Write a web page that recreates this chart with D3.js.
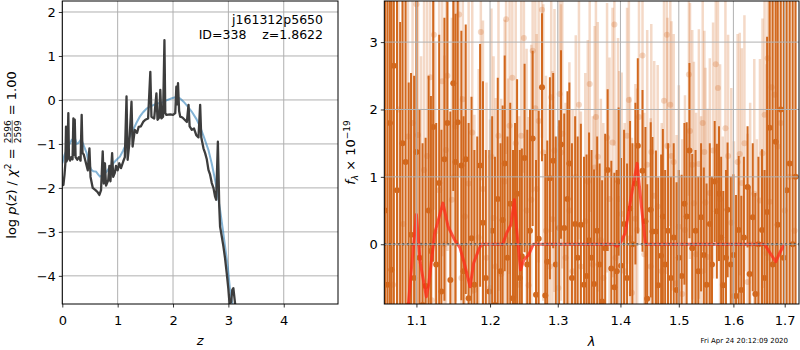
<!DOCTYPE html>
<html>
<head>
<meta charset="utf-8">
<script src="https://cdn.jsdelivr.net/npm/d3@7"></script>
<style>
body { margin: 0; background: #fff; }
text { font-family: "DejaVu Sans", sans-serif; white-space: pre; }
</style>
</head>
<body>
<div id="vis"></div>
<script>
// ---- left panel: p(z) ----
const zPz = [0.00,0.02,0.04,0.055,0.067,0.075,0.09,0.109,0.12,0.14,0.16,0.185,0.20,0.212,0.225,0.24,0.27,0.30,0.33,0.35,0.365,0.39,0.42,0.46,0.49,0.51,0.55,0.60,0.64,0.67,0.70,0.73,0.75,0.77,0.79,0.83,0.85,0.87,0.90,0.92,0.95,0.97,1.00,1.03,1.06,1.10,1.13,1.16,1.18,1.21,1.25,1.27,1.31,1.35,1.38,1.42,1.46,1.50,1.55,1.59,1.61,1.66,1.70,1.72,1.75,1.77,1.79,1.82,1.845,1.86,1.88,1.95,2.00,2.04,2.06,2.075,2.09,2.11,2.13,2.17,2.21,2.25,2.28,2.30,2.34,2.38,2.42,2.46,2.49,2.51,2.52,2.55,2.58,2.61,2.64,2.67,2.70,2.73,2.76,2.78,2.81,2.835,2.85,2.88,2.91,2.94,2.97,3.00,3.02,3.05,3.07,3.09,3.12,3.15];
const logPz = [-1.95,-1.93,-1.70,-1.45,-0.61,-1.40,-1.35,-0.30,-1.30,-1.38,-1.30,-1.35,-0.42,-1.25,-0.45,-1.30,-1.36,-1.30,-1.38,-0.34,-1.20,-1.25,-1.40,-1.60,-1.10,-1.75,-2.00,-2.05,-2.10,-2.16,-2.05,-1.17,-1.90,-1.44,-1.95,-1.82,-1.50,-1.85,-1.21,-1.75,-1.65,-1.50,-1.60,-1.44,-1.55,-1.40,-1.30,0.08,-1.36,-1.00,-0.04,-1.06,-0.68,-0.75,-0.61,-0.60,-0.50,-0.45,-0.42,0.64,-0.38,-0.42,0.15,-0.45,-0.40,0.23,-0.42,-0.38,1.36,-0.30,-0.34,-0.33,-0.34,-0.30,0.30,-0.10,0.38,-0.25,-0.38,-0.40,-0.45,-0.50,-0.11,-0.60,-0.68,-0.65,-0.80,-0.85,-0.11,-0.85,-0.91,-1.10,-1.21,-1.35,-1.59,-1.70,-1.89,-2.00,-2.20,-2.27,-0.95,-2.42,-2.88,-3.10,-3.33,-3.60,-3.94,-4.30,-4.62,-4.60,-4.32,-4.28,-4.62,-5.00];

const zSmooth = [0.00,0.04,0.08,0.13,0.17,0.21,0.23,0.26,0.29,0.33,0.36,0.40,0.44,0.48,0.52,0.56,0.61,0.65,0.68,0.72,0.76,0.80,0.86,0.92,0.98,1.04,1.10,1.16,1.22,1.28,1.34,1.40,1.46,1.52,1.58,1.66,1.72,1.80,1.90,1.98,2.04,2.08,2.13,2.19,2.26,2.34,2.42,2.49,2.56,2.64,2.70,2.76,2.81,2.85,2.90,2.94,2.99,3.03,3.09];
const logPzSmooth = [-1.44,-1.25,-1.14,-1.00,-0.91,-0.87,-0.88,-1.00,-0.98,-0.91,-0.95,-1.08,-1.21,-1.45,-1.58,-1.62,-1.63,-1.70,-1.74,-1.72,-1.68,-1.63,-1.52,-1.44,-1.36,-1.29,-1.15,-0.98,-0.83,-0.68,-0.52,-0.38,-0.28,-0.20,-0.15,-0.11,-0.08,-0.06,0.00,0.04,0.06,0.06,0.03,-0.04,-0.14,-0.27,-0.43,-0.61,-0.85,-1.14,-1.45,-1.82,-2.18,-2.50,-2.95,-3.33,-3.80,-4.32,-4.77];

const zTicks = [0, 1, 2, 3, 4];
const pzTicks = [-4, -3, -2, -1, 0, 1, 2];

// ---- right panel: spectrum, first orientation (solid) ----
const lamA = [1.060,1.063,1.066,1.068,1.071,1.075,1.079,1.082,1.086,1.090,1.093,1.097,1.100,1.104,1.108,1.112,1.116,1.119,1.122,1.126,1.130,1.133,1.137,1.141,1.145,1.149,1.152,1.155,1.160,1.163,1.166,1.170,1.174,1.178,1.182,1.186,1.190,1.194,
  1.199,1.203,1.207,1.211,1.215,1.218,1.221,1.225,1.229,1.233,1.236,1.239,1.243,1.246,1.250,1.254,1.258,1.262,1.267,1.271,1.276,1.281,1.284,1.288,1.293,1.297,1.302,1.305,1.310,1.315,1.318,1.322,1.327,1.331,1.336,1.341,1.345,1.349,
  1.353,1.357,1.362,1.366,1.370,1.375,1.379,1.385,1.390,1.394,1.397,1.401,1.406,1.411,1.416,1.420,1.425,1.429,1.437,1.442,1.445,1.451,1.454,1.460,1.464,1.469,1.472,1.476,1.481,1.486,1.491,1.496,1.500,1.505,1.510,1.514,1.519,1.524,
  1.530,1.535,1.540,1.545,1.550,1.556,1.560,1.565,1.569,1.573,1.577,1.581,1.586,1.589,1.595,1.600,1.605,1.610,1.615,1.620,1.627,1.631,1.637,1.642,1.648,1.655,1.660,1.665,1.670,1.676,1.682,1.686,1.692,1.698,1.704,1.710,1.716,1.722];
const fluxA = [0.5,-0.6,1.8,-0.38,2.65,0.8,-1.2,1.5,1.22,-0.9,0.14,-0.5,1.37,-0.2,-0.9,-0.62,0.5,-0.1,1.74,-0.3,0.91,-0.7,1.26,1.8,-0.53,2.39,1.22,1.81,1.17,-0.4,1.26,-0.8,0.09,-0.6,-1.0,1.17,0.32,-0.5,
  -0.7,0.2,-0.9,0.67,-0.4,0.36,1.2,-0.2,0.6,-0.8,0.2,0.75,-0.5,-0.18,1.28,-0.3,0.2,1.57,-0.75,0.08,2.33,-0.76,-0.26,0.98,1.24,-0.3,0.24,1.48,0.24,0.67,1.2,-0.5,0.3,-0.2,0.29,-0.6,-0.47,0.06,
  -0.2,-0.59,0.2,-0.3,-0.85,-0.06,1.1,-0.36,-0.64,-0.4,0.93,-0.32,0.3,-0.5,0.53,0.0,0.9,1.46,1.09,0.34,-0.81,0.51,0.19,0.19,-0.61,-0.17,0.41,-0.3,0.2,-0.5,0.1,-0.68,-0.2,-0.47,0.6,0.41,1.39,-0.06,
  0.2,-0.4,0.4,-0.16,-0.6,0.3,-0.3,0.93,0.49,0.75,0.1,-0.61,-0.2,0.51,-0.3,-0.16,-0.77,0.21,-0.68,0.1,0.85,-0.44,0.4,-0.74,0.0,0.21,-0.5,0.48,1.73,-0.3,1.52,0.29,2.0,-0.2,0.8,1.2,0.0,1.0];
const errA = [5,5,5,5,5,4.5,4.5,4,4,3.3,2.4,3.0,2.3,2.2,2.4,2.2,2.0,2.3,2.0,2.1,2.2,2.4,2.1,1.8,2.5,1.6,2.2,1.8,2.0,2.3,2.0,2.6,2.1,2.0,2.6,1.8,2.1,1.9,
  2.1,1.7,2.2,1.8,1.9,1.7,1.6,1.8,1.5,2.2,1.6,1.7,1.9,1.6,1.4,2.0,1.8,1.3,2.0,1.9,1.1,2.1,1.8,1.5,1.3,1.9,1.6,1.4,1.7,1.6,1.2,2.0,1.6,1.8,1.5,1.9,1.8,1.6,
  1.6,1.7,1.4,1.5,1.8,1.7,1.2,1.6,1.7,1.5,1.1,1.6,1.4,1.7,1.3,1.5,1.2,1.3,1.2,1.4,1.7,1.3,1.4,1.2,1.6,1.5,1.3,1.4,1.3,1.5,1.4,1.6,1.3,1.5,1.2,1.4,1.3,1.4,
  1.2,1.4,1.1,1.3,1.5,1.2,1.3,0.9,1.0,1.0,1.2,1.4,1.3,1.0,1.3,1.2,1.5,1.1,1.4,1.2,0.9,1.3,1.1,1.5,1.3,1.2,1.6,2.6,3.5,4.2,4.5,4.5,5,5,5,5,5,5];

// ---- right panel: second orientation (faint) ----
const lamB = [1.063,1.070,1.077,1.083,1.089,1.095,1.100,1.102,1.106,1.110,1.114,1.118,1.120,1.123,1.125,1.130,1.134,1.137,1.139,1.141,1.147,1.150,1.152,1.157,1.160,1.162,1.165,1.170,1.175,1.178,1.184,1.187,1.190,1.195,
  1.200,1.202,1.205,1.208,1.212,1.216,1.221,1.223,1.226,1.228,1.232,1.237,1.242,1.245,1.249,1.253,1.256,1.260,1.262,1.266,1.268,1.271,1.276,1.278,1.282,1.288,1.290,1.292,1.295,1.301,1.303,1.305,1.307,1.312,1.318,1.323,1.328,1.333,1.336,1.343,1.347,1.350,
  1.355,1.358,1.360,1.363,1.368,1.372,1.378,1.382,1.387,1.390,1.392,1.396,1.398,1.402,1.407,1.411,1.414,1.416,1.419,1.425,1.428,1.431,1.437,1.440,1.445,1.451,1.452,1.457,1.463,1.470,1.474,1.479,1.480,1.485,1.487,1.491,1.496,1.500,1.506,1.511,1.518,1.520,1.524,1.527,
  1.531,1.536,1.540,1.543,1.546,1.548,1.552,1.556,1.562,1.567,1.571,1.575,1.580,1.585,1.590,1.596,1.601,1.608,1.612,1.616,1.621,1.627,1.632,1.640,1.645,1.651,1.656,1.660,1.664,1.666,1.670,1.674,1.680,1.686,1.692,1.700,1.710,1.720];
const fluxB = [1.0,-0.6,2.0,0.3,1.6,1.8,3.56,1.62,-0.01,1.1,1.31,2.48,-0.83,3.11,0.19,0.8,2.42,0.0,1.40,2.5,0.66,1.0,1.75,3.41,-0.5,2.15,0.41,0.9,1.66,-0.68,0.10,3.15,0.82,-0.2,
  -0.65,1.30,0.39,-0.33,1.61,-0.44,0.93,3.34,0.06,1.76,2.47,1.50,-0.60,1.61,3.06,0.5,-0.61,0.66,2.87,2.02,0.82,1.83,3.48,1.36,0.2,-0.33,2.18,0.37,1.39,-0.65,2.23,1.36,1.64,-0.2,0.5,-0.4,1.0,2.07,-0.33,0.34,0.93,2.38,
  -0.30,1.14,1.89,1.30,0.06,-0.5,1.58,0.67,1.51,3.26,-0.20,1.06,0.67,0.45,-0.4,1.61,2.14,0.09,-0.72,0.38,0.21,1.89,2.80,-0.15,1.18,-0.33,1.37,0.72,0.56,-0.4,2.13,3.11,1.46,2.07,1.31,1.22,-0.58,0.26,-0.74,0.21,2.52,1.68,1.18,0.61,
  -0.15,1.19,-0.40,1.80,1.37,0.62,-0.19,0.76,1.39,2.67,2.32,0.67,-0.60,1.72,1.31,0.32,-0.77,1.22,1.34,0.91,1.50,-0.56,0.0,0.75,-0.74,0.65,1.35,1.92,-0.13,2.76,0.63,2.33,2.22,1.45,1.80,0.5,1.0,0.2];
const errB = [5,4.5,4.5,4,3.5,2.8,2.6,3.0,2.8,3.0,2.8,2.6,2.8,2.6,2.8,3.0,2.6,2.8,2.8,2.6,2.7,2.8,2.6,2.4,2.7,2.4,2.6,2.7,2.4,2.6,2.5,2.2,2.5,2.6,
  2.5,2.2,2.4,2.5,2.3,2.6,2.4,2.0,2.4,2.2,2.1,2.3,2.5,2.2,2.0,2.4,2.5,2.3,2.1,2.0,2.3,2.1,1.9,2.2,2.3,2.4,2.0,2.2,2.1,2.4,2.0,2.2,2.0,2.3,2.2,2.4,2.1,2.0,2.3,2.2,2.1,1.9,
  2.2,2.1,1.9,2.0,2.1,2.3,2.0,2.1,2.0,1.8,2.2,2.0,1.9,2.1,2.2,1.9,1.8,2.1,2.3,2.0,2.1,1.9,1.8,2.1,2.0,2.2,1.9,2.0,2.1,2.2,1.9,1.7,1.9,1.8,2.0,1.9,2.2,2.1,2.3,2.0,1.8,1.9,2.0,2.1,
  2.1,2.0,2.3,1.9,1.8,2.0,2.2,2.0,1.9,1.7,1.8,2.0,2.2,1.9,1.8,2.0,2.3,1.9,1.8,2.0,1.9,2.2,2.1,2.0,2.3,2.1,2.0,2.0,2.8,3.0,3.2,3.5,4,4.5,5,5,5,5];

// ---- right panel: best-fit model ----
const lamModel = [1.088,1.094,1.100,1.105,1.113,1.116,1.124,1.135,1.142,1.151,1.158,1.164,1.172,1.177,1.184,1.188,1.218,1.224,1.230,1.235,1.238,1.244,1.249,1.256,1.263,1.388,1.394,1.399,1.408,1.417,1.423,1.428,1.434,1.442,1.660,1.671,1.682,1.690,1.699];
const fluxModel = [-1.1,-0.3,0.44,-0.28,-0.78,-0.60,0.16,0.61,0.26,0.06,-0.05,-0.28,-0.63,-0.28,-0.08,0.0,0.0,0.17,0.29,0.66,0.26,-0.38,-0.23,-0.16,0.0,0.0,-0.03,0.0,0.17,0.66,0.96,1.20,0.66,0.0,0.0,-0.13,-0.26,-0.13,0.0];

const lamTicks = [1.1, 1.2, 1.3, 1.4, 1.5, 1.6, 1.7];
const fluxTicks = [0, 1, 2, 3];

const WIDTH = 800, HEIGHT = 350;
const FS = 13;
const ORANGE = "#d2691e";
const GRID = "#b0b0b0";

const svg = d3.select("#vis").append("svg")
  .attr("width", WIDTH)
  .attr("height", HEIGHT);

const L = {x0: 62.3, x1: 338, y0: 1, y1: 304};
const R = {x0: 384.3, x1: 799, y0: 1, y1: 304};

const xL = d3.scaleLinear().domain([0, 4.98]).range([L.x0, L.x1]);
const yL = d3.scaleLinear().domain([-4.64, 2.25]).range([L.y1, L.y0]);
const xR = d3.scaleLog().domain([1.059, 1.729]).range([R.x0, R.x1]);
const yR = d3.scaleLinear().domain([-0.887, 3.61]).range([R.y1, R.y0]);

const defs = svg.append("defs");
defs.append("clipPath").attr("id", "clipL").append("rect")
  .attr("x", L.x0).attr("y", L.y0).attr("width", L.x1 - L.x0).attr("height", L.y1 - L.y0);
defs.append("clipPath").attr("id", "clipR").append("rect")
  .attr("x", R.x0).attr("y", R.y0).attr("width", R.x1 - R.x0).attr("height", R.y1 - R.y0);

function grid(box, xs, ys, xt, yt) {
  const g = svg.append("g");
  g.selectAll(".gx").data(xt).enter().append("line")
    .attr("x1", d => xs(d)).attr("x2", d => xs(d))
    .attr("y1", box.y0).attr("y2", box.y1)
    .attr("stroke", GRID).attr("stroke-width", 1);
  g.selectAll(".gy").data(yt).enter().append("line")
    .attr("x1", box.x0).attr("x2", box.x1)
    .attr("y1", d => ys(d)).attr("y2", d => ys(d))
    .attr("stroke", GRID).attr("stroke-width", 1);
}

function axes(box, xs, ys, xt, yt, xfmt) {
  const gx = svg.append("g").attr("transform", `translate(0,${box.y1})`)
    .call(d3.axisBottom(xs).tickValues(xt).tickFormat(xfmt).tickSize(3.5).tickSizeOuter(0).tickPadding(8));
  const gy = svg.append("g").attr("transform", `translate(${box.x0},0)`)
    .call(d3.axisLeft(ys).tickValues(yt).tickFormat(d3.format("d")).tickSize(3.5).tickSizeOuter(0).tickPadding(3));
  [gx, gy].forEach(g => {
    g.select(".domain").remove();
    g.selectAll("text").attr("font-size", FS).attr("font-family", "DejaVu Sans").attr("fill", "#000");
    g.selectAll("line").attr("stroke", "#000").attr("stroke-width", 0.8);
  });
  svg.append("rect")
    .attr("x", box.x0).attr("y", box.y0)
    .attr("width", box.x1 - box.x0).attr("height", box.y1 - box.y0)
    .attr("fill", "none").attr("stroke", "#000").attr("stroke-width", 1);
}

// rotated label made of pieces (for sub/superscripts and a stacked fraction)
function richLabel(cx, cy, pieces) {
  const g = svg.append("g").attr("transform", `translate(${cx},${cy}) rotate(-90)`);
  const inner = g.append("g");
  let x = 0;
  pieces.forEach(p => {
    if (p.frac) {
      const a = inner.append("text").attr("x", x + 1).attr("y", -5.5).attr("font-size", 9).text(p.frac[0]);
      const b = inner.append("text").attr("x", x + 1).attr("y", 5).attr("font-size", 9).text(p.frac[1]);
      const w = Math.max(a.node().getComputedTextLength(), b.node().getComputedTextLength()) + 2;
      inner.append("line").attr("x1", x + 1).attr("x2", x + w - 1)
        .attr("y1", -3.8).attr("y2", -3.8).attr("stroke", "#000").attr("stroke-width", 0.6);
      x += w;
    } else {
      const t = inner.append("text").attr("x", x).attr("y", p.dy || 0)
        .attr("font-size", p.size || FS)
        .attr("font-style", p.it ? "italic" : null)
        .text(p.t);
      x += t.node().getComputedTextLength();
    }
  });
  inner.attr("transform", `translate(${-x / 2},0)`);
}

// ================= left panel =================
grid(L, xL, yL, zTicks, pzTicks);

const plotL = svg.append("g").attr("clip-path", "url(#clipL)");

plotL.append("path")
  .attr("d", d3.line()(zSmooth.map((z, i) => [xL(z), yL(logPzSmooth[i])])))
  .attr("fill", "none").attr("stroke", "#1f77b4").attr("stroke-opacity", 0.55)
  .attr("stroke-width", 2);

plotL.append("path")
  .attr("d", d3.line()(zPz.map((z, i) => [xL(z), yL(logPz[i])])))
  .attr("fill", "none").attr("stroke", "#3d3d3d")
  .attr("stroke-width", 2.3).attr("stroke-linejoin", "round");

axes(L, xL, yL, zTicks, pzTicks, d3.format("d"));

svg.append("text").attr("x", 323).attr("y", 24).attr("text-anchor", "end")
  .attr("font-size", 12.5).text("j161312p5650");
svg.append("text").attr("x", 323).attr("y", 38.5).attr("text-anchor", "end")
  .attr("font-size", 12.5).text("ID=338    z=1.8622");

svg.append("text").attr("x", (L.x0 + L.x1) / 2).attr("y", 345)
  .attr("text-anchor", "middle").attr("font-size", FS).attr("font-style", "italic").text("z");

richLabel(16, 155, [
  {t: "log "}, {t: "p", it: true}, {t: "("}, {t: "z", it: true}, {t: ") / "},
  {t: "χ", it: true}, {t: "2", size: 9, dy: -5}, {t: " = "},
  {frac: ["2596", "2599"]}, {t: " = 1.00"}
]);

// ================= right panel =================
const plotR = svg.append("g").attr("clip-path", "url(#clipR)");

function errorbars(lam, flux, err, opacity, w) {
  const g = plotR.append("g");
  lam.forEach((l, i) => {
    g.append("line")
      .attr("x1", xR(l)).attr("x2", xR(l))
      .attr("y1", yR(flux[i] - err[i])).attr("y2", yR(flux[i] + err[i]))
      .attr("stroke", ORANGE).attr("stroke-opacity", opacity).attr("stroke-width", w);
    g.append("circle")
      .attr("cx", xR(l)).attr("cy", yR(flux[i])).attr("r", 3)
      .attr("fill", ORANGE).attr("fill-opacity", opacity);
  });
}

errorbars(lamA, fluxA, errA, 1, 2);
errorbars(lamB, fluxB, errB, 0.25, 2.5);

grid(R, xR, yR, lamTicks, fluxTicks);

plotR.append("path")
  .attr("d", d3.line()(lamModel.map((l, i) => [xR(l), yR(fluxModel[i])])))
  .attr("fill", "none").attr("stroke", "#ff2a1a").attr("stroke-opacity", 0.75)
  .attr("stroke-width", 3).attr("stroke-linejoin", "round");

plotR.append("line")
  .attr("x1", R.x0).attr("x2", R.x1).attr("y1", yR(0)).attr("y2", yR(0))
  .attr("stroke", "#222").attr("stroke-width", 2).attr("stroke-dasharray", "2,2.5");

axes(R, xR, yR, lamTicks, fluxTicks, d3.format(".1f"));

svg.append("text").attr("x", (R.x0 + R.x1) / 2).attr("y", 346)
  .attr("text-anchor", "middle").attr("font-size", FS).attr("font-style", "italic").text("λ");

richLabel(355, 152.5, [
  {t: "f", it: true}, {t: "λ", it: true, size: 9, dy: 3}, {t: " × 10"}, {t: "−19", size: 9, dy: -5}
]);

svg.append("text").attr("x", 788).attr("y", 343).attr("text-anchor", "end")
  .attr("font-size", 7).text("Fri Apr 24 20:12:09 2020");
</script>
</body>
</html>
